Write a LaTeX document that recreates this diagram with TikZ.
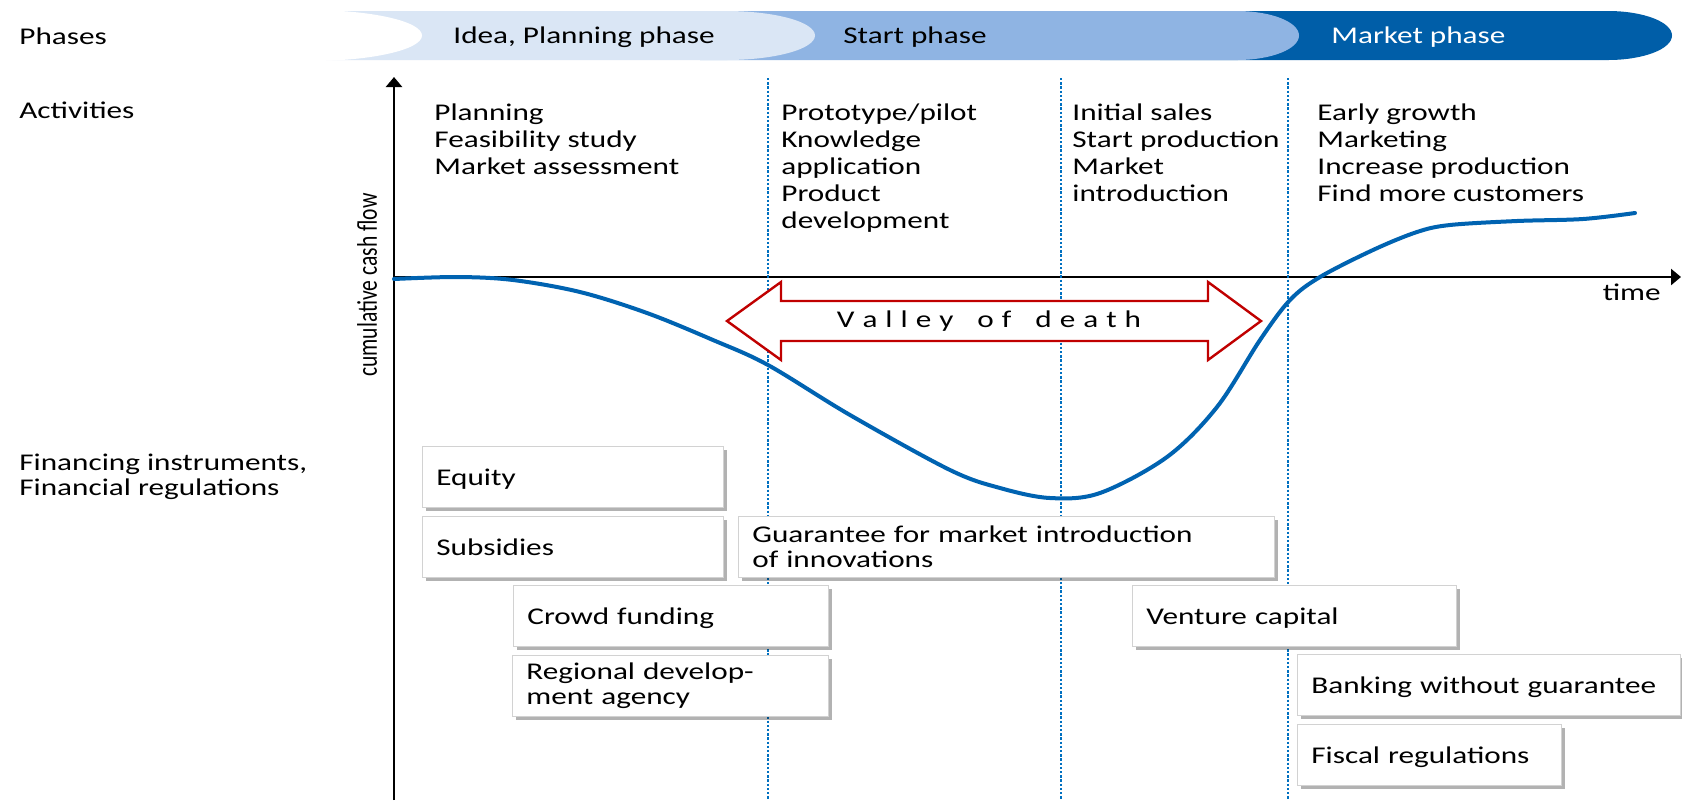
\documentclass[tikz,border=0pt]{standalone}
\usepackage{fontspec}
\setmainfont{Carlito}[FakeStretch=1.3]
\newfontfamily\rotfont{Carlito}[FakeStretch=0.76]
\usetikzlibrary{positioning,shadows,arrows.meta}
\definecolor{phaseA}{RGB}{218,230,245}
\definecolor{phaseB}{RGB}{143,180,227}
\definecolor{phaseC}{RGB}{0,94,168}
\definecolor{curveblue}{RGB}{0,99,177}
\definecolor{dotblue}{RGB}{0,112,192}
\definecolor{valleyred}{RGB}{192,0,0}

\begin{document}
\begin{tikzpicture}[x=0.5pt, y=-0.5pt,
        every node/.style = {font=\fontsize{12}{13.6}\selectfont, inner sep=0pt},
        rowlabel/.style = {anchor=west, align=left},
        activity/.style = {anchor=north west, align=left},
        fin/.style = {draw=gray!35, fill=white, line width=0.4pt,
            anchor=north west, align=left, inner xsep=7pt, inner ysep=0pt,
            minimum height=30.5pt,
            font=\fontsize{12}{12.8}\selectfont,
            drop shadow={shadow xshift=2pt, shadow yshift=-2pt, fill=black, opacity=0.3}},
        oneline/.style = {text height=11.5pt, text depth=2.5pt},
        axis/.style = {line width=1.2pt, -{Triangle[length=5pt, width=8pt]}},
        border/.style = {dotblue, line width=1.3pt, dash pattern=on 1.2pt off 0.9pt}]
    \fill[white] (0,0) rectangle (1682,800);
    \useasboundingbox (0,0) rectangle (1682,800);
    % phases bar
    \fill[phaseC] (1100,11) -- (1608,11)
        arc[start angle=90, end angle=-90, x radius=32pt, y radius=12.25pt] -- (1100,60) -- cycle;
    \fill[phaseB] (700,11) -- (1237,11)
        arc[start angle=90, end angle=-90, x radius=31pt, y radius=12.25pt] -- (700,60) -- cycle;
    \fill[phaseA] (300,11) -- (726,11)
        arc[start angle=90, end angle=-90, x radius=44.5pt, y radius=12.25pt] -- (300,60) -- cycle;
    \fill[white] (310,35.5) ellipse [x radius=56pt, y radius=12.75pt];
    \node[anchor=west] (idea) at (453,37) {Idea, Planning phase};
    \node[anchor=west] (start) at (843,37) {Start phase};
    \node[anchor=west, text=white] (market) at (1331,37) {Market phase};

    \node[rowlabel] (phases) at (19,36) {Phases};
    \node[rowlabel] (activities) at (19,110) {Activities};
    \node[rowlabel, font=\fontsize{12}{12.5}\selectfont] (financing) at (19,477)
        {Financing instruments,\\Financial regulations};

    % axes
    \coordinate (origin) at (394,277);
    \coordinate (ytop) at (394,77);
    \coordinate (ybot) at (394,800);
    \coordinate (xend) at (1681,277);
    \draw[axis] (ybot) -- (ytop);
    \draw[axis] (origin) -- (xend);
    \node[anchor=east] (time) at (1661,292) {time};
    \node[rotate=90, font=\rotfont\fontsize{14.2}{15}\selectfont] (ccf) at (367,285) {cumulative cash flow};

    \foreach \x/\n in {768/a,1061/b,1288/c}
        \draw[border] (\x,78) coordinate (top\n) -- (\x,800) coordinate (bot\n);

    % activities
    \node[activity] (act1) at (434,103) {Planning\\Feasibility study\\Market assessment};
    \node[activity] (act2) at (781,103) {Prototype/pilot\\Knowledge\\application\\Product\\development};
    \node[activity] (act3) at (1072,103) {Initial sales\\Start production\\Market\\introduction};
    \node[activity] (act4) at (1317,103) {Early growth\\Marketing\\Increase production\\Find more customers};

    % cash flow
    \draw[curveblue, line width=2pt, line cap=round] plot[smooth, tension=0.55] coordinates {
        (394,279) (457,277) (513,280) (580,292) (647,313) (713,340) (768,365)
        (850,415) (950,470) (1000,488) (1050,498) (1100,493) (1167,457)
        (1217,407) (1260,340) (1290,300) (1320,277) (1373,250) (1417,232)
        (1450,225) (1517,221) (1583,219) (1635,213)};

    % valley of death
    \draw[valleyred, line width=1.2pt, fill=white]
        (727,321) -- (781,282) -- (781,301) -- (1208,301) -- (1208,282) -- (1261,321)
        -- (1208,360) -- (1208,341) -- (781,341) -- (781,360) -- cycle;
    \node (valley) at (989,321) {\spaceskip=4pt V a l l e y\hspace{12pt}o f\hspace{12pt}d e a t h};

    % financing instruments
    \node[fin, oneline, text width=136.5pt] (equity) at (422,446) {Equity};
    \node[fin, oneline, text width=136.5pt] (subsidies) at (422,516) {Subsidies};
    \node[fin, text width=254pt] (guarantee) at (738,516) {Guarantee for market introduction\\of innovations};
    \node[fin, oneline, text width=143.5pt] (crowd) at (513,585) {Crowd funding};
    \node[fin, text width=144pt] (regional) at (512,655) {Regional develop-\\ment agency};
    \node[fin, oneline, text width=148pt] (venture) at (1132,585) {Venture capital};
    \node[fin, oneline, text width=177.5pt] (banking) at (1297,654) {Banking without guarantee};
    \node[fin, oneline, text width=118pt] (fiscal) at (1297,724) {Fiscal regulations};
\end{tikzpicture}
\end{document}
